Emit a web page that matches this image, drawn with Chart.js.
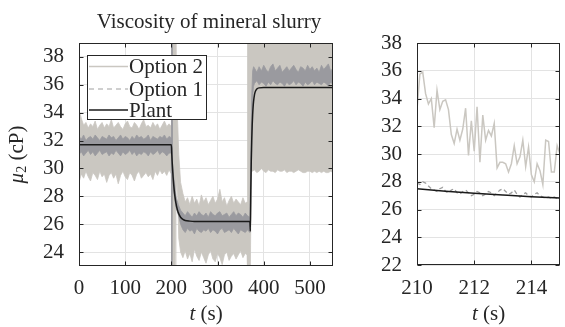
<!DOCTYPE html>
<html>
<head>
<meta charset="utf-8">
<script src="https://cdn.jsdelivr.net/npm/chart.js@4.4.1/dist/chart.umd.min.js"></script>
<style>
  html, body { margin: 0; padding: 0; background: #fff; }
  #wrap { position: relative; width: 565px; height: 327px; overflow: hidden; }
  canvas { position: absolute; top: 0; }
</style>
</head>
<body>
<div id="wrap">
  <canvas id="fullChart" width="350" height="327" style="left:0"></canvas>
  <canvas id="zoomChart" width="215" height="327" style="left:350px"></canvas>
</div>
<script>
// ---- data ----
// full run, x ticks / y ticks
const fullXTicks = [0, 100, 200, 300, 400, 500];
const fullYTicks = [24, 26, 28, 30, 32, 34, 36, 38];
const zoomXTicks = [210, 212, 214];
const zoomYTicks = [22, 24, 26, 28, 30, 32, 34, 36, 38];

// Option 2 estimate (light band): time, upper and lower envelope
const opt2Time = [
  0, 5, 10, 15, 20, 25, 30, 35, 40, 45, 50, 55, 60, 65, 70, 75, 80, 85, 90, 95,
  100, 105, 110, 115, 120, 125, 130, 135, 140, 145, 150, 155, 160, 165, 170, 175, 180, 185, 190, 195,
  200, 203, 209, 210, 212, 214, 216, 220,
  225, 230, 235, 240, 245, 250, 255, 260, 265, 270, 275, 280, 285, 290, 295, 300, 305, 310, 315, 320,
  325, 330, 335, 340, 345, 350, 355, 360,
  364, 365, 371, 373,
  375, 380, 385, 390, 395, 400, 405, 410, 415, 420, 425, 430, 435, 440, 445, 450, 455, 460,
  465, 470, 475, 480, 485, 490, 495, 500, 505, 510, 515, 520, 525, 530, 535, 540, 545, 550
];
const opt2Upper = [
  34.2, 33.6, 33.1, 33.3, 32.9, 33.2, 33.0, 33.4, 32.8, 33.1, 33.3, 32.9, 33.2, 33.0, 33.5, 32.9, 33.1, 33.3, 33.0, 32.8,
  33.2, 33.4, 33.0, 32.9, 33.3, 33.1, 32.8, 33.2, 33.5, 33.0, 33.1, 32.9, 33.3, 33.0, 33.2, 32.8, 33.1, 33.4, 33.0, 33.2,
  33.0, 39.5, 39.5, 36.0, 34.5, 33.0, 31.0, 29.0,
  28.2, 27.6, 27.9, 27.4, 28.0, 27.5, 27.8, 27.3, 28.1, 27.6, 27.9, 27.4, 27.7, 28.0, 27.5, 27.8, 28.5, 27.6, 27.9, 27.3,
  27.7, 28.0, 27.5, 27.8, 27.6, 27.4, 27.9, 27.5,
  27.6, 39.5, 39.5, 39.5,
  39.5, 39.5, 39.5, 39.5, 39.5, 39.5, 39.5, 39.5, 39.5, 39.5, 39.5, 39.5, 39.5, 39.5, 39.5, 39.5, 39.5, 39.5,
  39.5, 39.5, 39.5, 39.5, 39.5, 39.5, 39.5, 39.5, 39.5, 39.5, 39.5, 39.5, 39.5, 39.5, 39.5, 39.5, 39.5, 39.5
];
const opt2Lower = [
  29.0, 29.6, 29.3, 29.8, 29.4, 29.1, 29.7, 29.5, 29.2, 29.8, 29.4, 29.6, 29.0, 29.5, 29.7, 29.3, 29.6, 28.9, 29.5, 29.8,
  29.4, 29.2, 29.7, 29.5, 29.1, 29.6, 29.8, 29.3, 29.5, 29.7, 29.4, 29.6, 29.2, 29.8, 29.5, 29.9, 29.6, 29.8, 29.5, 29.9,
  29.6, 22.5, 22.5, 28.0, 29.5, 27.8, 25.0, 24.0,
  23.6, 24.1, 23.5, 23.9, 23.3, 24.2, 23.7, 23.4, 24.0, 23.6, 23.2, 23.8, 24.1, 23.5, 23.3, 23.9, 23.6, 23.1, 23.8, 24.0,
  23.4, 23.7, 23.9, 23.5, 23.8, 24.1, 23.6, 23.9,
  23.8, 22.5, 22.5, 29.9,
  29.8, 29.9, 29.7, 29.8, 30.0, 29.8, 29.7, 29.9, 29.8, 29.8, 29.7, 29.9, 29.8, 29.8, 29.9, 29.7, 29.8, 29.8,
  29.7, 29.8, 29.9, 29.8, 29.7, 29.7, 29.8, 29.8, 29.7, 29.8, 29.7, 29.8, 29.7, 29.8, 29.7, 29.7, 29.8, 29.7
];

// Option 1 estimate (dark band)
const opt1Time = [
  0, 5, 10, 15, 20, 25, 30, 35, 40, 45, 50, 55, 60, 65, 70, 75, 80, 85, 90, 95,
  100, 105, 110, 115, 120, 125, 130, 135, 140, 145, 150, 155, 160, 165, 170, 175, 180, 185, 190, 195,
  200, 200.5, 201.5, 202, 205, 210, 215, 220,
  225, 230, 235, 240, 245, 250, 255, 260, 265, 270, 275, 280, 285, 290, 295, 300, 305, 310, 315, 320,
  325, 330, 335, 340, 345, 350, 355, 360, 365,
  370, 372, 374, 376, 378,
  380, 385, 390, 395, 400, 405, 410, 415, 420, 425, 430, 435, 440, 445, 450, 455, 460, 465,
  470, 475, 480, 485, 490, 495, 500, 505, 510, 515, 520, 525, 530, 535, 540, 545, 550
];
const opt1Upper = [
  32.3, 32.1, 32.4, 32.0, 32.2, 32.3, 32.1, 32.4, 32.2, 32.0, 32.3, 32.2, 32.1, 32.4, 32.2, 32.3, 32.0, 32.2, 32.4, 32.1,
  32.3, 32.2, 32.0, 32.3, 32.1, 32.4, 32.2, 32.3, 32.1, 32.2, 32.4, 32.0, 32.3, 32.2, 32.1, 32.3, 32.2, 32.4, 32.1, 32.3,
  32.2, 39.5, 39.5, 30.6, 29.4, 28.0, 27.4, 27.0,
  26.8, 26.6, 26.9, 26.7, 26.5, 26.8, 26.6, 26.9, 26.7, 26.6, 26.8, 26.5, 26.9, 26.7, 26.6, 26.8, 26.9, 26.6, 26.7, 26.8,
  26.5, 26.7, 26.9, 26.6, 26.8, 26.7, 26.5, 26.8, 26.6,
  26.5, 30.5, 35.2, 37.0, 37.3,
  37.2, 36.9, 37.3, 37.0, 37.4, 37.1, 36.9, 37.3, 37.5, 37.0, 37.2, 37.4, 36.9, 37.1, 37.3, 37.0, 37.2, 37.4,
  37.1, 36.9, 37.3, 37.2, 37.0, 37.4, 37.1, 37.3, 37.0, 37.2, 36.9, 37.4, 37.1, 37.3, 37.5, 37.0, 37.2
];
const opt1Lower = [
  31.0, 31.2, 30.9, 31.1, 31.3, 31.0, 31.2, 30.9, 31.1, 31.3, 31.0, 31.1, 31.2, 30.9, 31.1, 31.0, 31.3, 31.1, 30.9, 31.2,
  31.0, 31.1, 31.3, 31.0, 31.2, 30.9, 31.1, 31.0, 31.2, 31.1, 30.9, 31.2, 31.0, 31.1, 31.3, 31.0, 31.2, 31.1, 30.9, 31.1,
  31.1, 22.5, 22.5, 29.6, 28.3, 27.2, 26.7, 26.0,
  25.6, 25.4, 25.7, 25.5, 25.6, 25.3, 25.7, 25.5, 25.4, 25.6, 25.5, 25.7, 25.4, 25.6, 25.5, 25.3, 25.6, 25.7, 25.4, 25.5,
  25.6, 25.4, 25.7, 25.5, 25.3, 25.6, 25.5, 25.4, 25.6,
  25.4, 27.5, 31.5, 35.2, 35.9,
  36.1, 36.3, 36.0, 36.2, 36.1, 35.9, 36.2, 36.0, 36.3, 36.1, 36.0, 36.2, 36.1, 35.9, 36.2, 36.0, 36.1, 36.3,
  36.0, 36.2, 36.1, 35.9, 36.2, 36.0, 36.1, 36.3, 36.0, 36.2, 36.1, 36.0, 36.2, 36.1, 35.9, 36.2, 36.0
];

// Plant viscosity
const plantTime = [
  0, 200, 201, 202, 203, 204, 205, 206, 207, 208, 209, 210, 211, 212, 213, 214, 215,
  218, 220, 225, 230, 240, 250,
  370, 371, 372, 373, 374, 375, 376, 377, 378,
  380, 382, 385, 390, 400, 550
];
const plantValue = [
  31.7, 31.7, 30.96, 30.31, 29.76, 29.28, 28.86, 28.5, 28.19, 27.92, 27.69, 27.49, 27.32, 27.17, 27.04, 26.92, 26.83,
  26.61, 26.5, 26.35, 26.27, 26.22, 26.2,
  26.2, 25.5, 28.42, 30.52, 32.01, 33.08, 33.85, 34.41, 34.8,
  35.3, 35.54, 35.7, 35.78, 35.8, 35.8
];

// close-up 210-215 s
const zoomTime = [
  210.0, 210.1, 210.2, 210.3, 210.4, 210.5, 210.6, 210.7, 210.8, 210.9,
  211.0, 211.1, 211.2, 211.3, 211.4, 211.5, 211.6, 211.7, 211.8, 211.9,
  212.0, 212.1, 212.2, 212.3, 212.4, 212.5, 212.6, 212.7, 212.8, 212.9,
  213.0, 213.1, 213.2, 213.3, 213.4, 213.5, 213.6, 213.7, 213.8, 213.9,
  214.0, 214.1, 214.2, 214.3, 214.4, 214.5, 214.6, 214.7, 214.8, 214.9, 215.0
];
const zoomOpt2 = [
  33.2, 35.75, 35.9, 34.35, 33.6, 34.0, 31.9, 34.6, 33.2, 33.8,
  33.9, 33.2, 31.4, 30.75, 31.8, 31.0, 31.8, 33.3, 29.9, 32.4,
  30.2, 33.4, 29.4, 32.8, 31.0, 31.7, 31.3, 32.2, 29.0, 29.4,
  29.4, 29.3, 28.7, 29.3, 30.6, 29.3, 29.8, 31.0, 29.1, 30.5,
  28.5, 28.0, 29.3, 28.8, 27.8, 31.0, 30.9, 28.7, 28.7, 30.6, 30.0
];
const zoomOpt1 = [
  27.9, 27.8, 28.0, 27.9, 27.7, 27.5, 27.4, 27.3, 27.5, 27.6,
  27.3, 27.2, 27.4, 27.5, 27.2, 27.1, 27.3, 27.4, 27.2, 27.0,
  27.1, 27.3, 27.2, 27.0, 27.1, 27.3, 27.2, 27.0, 27.2, 27.4,
  27.5, 27.3, 27.1, 27.2, 27.4, 27.1, 26.9, 27.1, 27.2, 27.0,
  26.9, 27.1, 27.2, 27.0, 26.9, 26.8, 26.9, 26.8, 26.9, 26.8, 26.8
];

// ---- styling ----
const serif = '"Liberation Serif", "Times New Roman", serif';
const ink = '#262626';
const lightGray = '#cac7c1';
const darkGray = '#9a9a9f';
const dashGray = '#a0a0a0';
const plantColor = '#1a1a1a';

Chart.defaults.font.family = serif;
Chart.defaults.font.size = 21;
Chart.defaults.color = ink;

const pts = (xs, ys) => xs.map((x, i) => ({ x: x, y: ys[i] }));

function drawRich(ctx, parts, x, y) {
  let total = 0;
  parts.forEach(p => {
    ctx.font = (p.italic ? 'italic ' : '') + p.size + 'px ' + serif;
    p.w = ctx.measureText(p.text).width;
    total += p.w;
  });
  let cx = x - total / 2;
  parts.forEach(p => {
    ctx.font = (p.italic ? 'italic ' : '') + p.size + 'px ' + serif;
    ctx.fillText(p.text, cx, y + (p.dy || 0));
    cx += p.w;
  });
}

// box round the axes, inward ticks on all sides, titles
const axesBox = {
  id: 'axesBox',
  afterDraw(chart, args, opts) {
    const { ctx, chartArea: a, scales: { x, y } } = chart;
    ctx.save();
    ctx.strokeStyle = ink;
    ctx.lineWidth = 1;
    const L = Math.round(a.left) + 0.5, R = Math.round(a.right) - 0.5;
    const T = Math.round(a.top) + 0.5, B = Math.round(a.bottom) - 0.5;
    ctx.strokeRect(L, T, R - L, B - T);
    ctx.beginPath();
    x.ticks.forEach(t => {
      const px = Math.round(x.getPixelForValue(t.value)) + 0.5;
      ctx.moveTo(px, B); ctx.lineTo(px, B - 4);
      ctx.moveTo(px, T); ctx.lineTo(px, T + 4);
    });
    y.ticks.forEach(t => {
      const py = Math.round(y.getPixelForValue(t.value)) + 0.5;
      ctx.moveTo(L, py); ctx.lineTo(L + 4, py);
      ctx.moveTo(R, py); ctx.lineTo(R - 4, py);
    });
    ctx.stroke();

    ctx.fillStyle = ink;
    ctx.textBaseline = 'alphabetic';
    if (opts.title) {
      drawRich(ctx, [{ text: opts.title, size: 21 }], opts.titleX, 28);
    }
    drawRich(ctx, [{ text: 't', italic: true, size: 21 }, { text: ' (s)', size: 21 }], (a.left + a.right) / 2, 320);
    if (opts.yTitle) {
      ctx.translate(17, (a.top + a.bottom) / 2);
      ctx.rotate(-Math.PI / 2);
      ctx.textBaseline = 'middle';
      drawRich(ctx, [
        { text: '\u03bc', italic: true, size: 21 },
        { text: '2', size: 14, dy: 5 },
        { text: ' (cP)', size: 21 }
      ], 0, 0);
    }
    ctx.restore();
  }
};

// framed legend in the upper left corner of the full-run axes
const legendBox = {
  id: 'legendBox',
  afterDatasetsDraw(chart) {
    const ctx = chart.ctx;
    const items = [
      { label: 'Option 2', color: lightGray, dash: [], width: 1.5, y: 66.5 },
      { label: 'Option 1', color: dashGray, dash: [5, 4], width: 1.2, y: 89 },
      { label: 'Plant', color: plantColor, dash: [], width: 1.5, y: 110 }
    ];
    ctx.save();
    ctx.fillStyle = '#fff';
    ctx.fillRect(87, 55, 120, 65);
    ctx.strokeStyle = ink;
    ctx.lineWidth = 1;
    ctx.strokeRect(87.5, 55.5, 119, 64);
    ctx.font = '21px ' + serif;
    ctx.textBaseline = 'middle';
    items.forEach(it => {
      ctx.beginPath();
      ctx.setLineDash(it.dash);
      ctx.strokeStyle = it.color;
      ctx.lineWidth = it.width;
      ctx.moveTo(89, it.y);
      ctx.lineTo(128, it.y);
      ctx.stroke();
      ctx.setLineDash([]);
      ctx.fillStyle = ink;
      ctx.fillText(it.label, 129, it.y + 1);
    });
    ctx.restore();
  }
};

function scaleOptions(min, max, tickValues, isX, fitSize, pad) {
  return {
    type: 'linear',
    min: min,
    max: max,
    afterBuildTicks: s => { s.ticks = tickValues.map(v => ({ value: v })); },
    afterFit: s => { if (isX) { s.height = fitSize; } else { s.width = fitSize; } },
    ticks: { padding: pad, autoSkip: false, maxRotation: 0, color: ink, font: { family: serif, size: 21 } },
    grid: { color: '#e3e3e3', lineWidth: 1, drawTicks: false },
    border: { display: false }
  };
}

const bandStyle = (color) => ({
  borderColor: color, backgroundColor: color, borderWidth: 0.8,
  pointRadius: 0, tension: 0
});

new Chart(document.getElementById('fullChart'), {
  type: 'line',
  data: {
    datasets: [
      Object.assign({ label: 'Option 2', data: pts(opt2Time, opt2Upper), fill: 1, order: 3 }, bandStyle(lightGray)),
      Object.assign({ label: 'Option 2 low', data: pts(opt2Time, opt2Lower), fill: false, order: 3 }, bandStyle(lightGray)),
      Object.assign({ label: 'Option 1', data: pts(opt1Time, opt1Upper), fill: 3, order: 2 }, bandStyle(darkGray)),
      Object.assign({ label: 'Option 1 low', data: pts(opt1Time, opt1Lower), fill: false, order: 2 }, bandStyle(darkGray)),
      {
        label: 'Plant', data: pts(plantTime, plantValue), borderColor: plantColor,
        borderWidth: 1.5, pointRadius: 0, fill: false, cubicInterpolationMode: 'monotone', order: 1
      }
    ]
  },
  options: {
    responsive: false,
    animation: false,
    devicePixelRatio: 1,
    layout: { padding: { top: 43, right: 17, left: 0, bottom: 0 } },
    scales: {
      x: scaleOptions(0, 550, fullXTicks, true, 61, 10),
      y: scaleOptions(23, 39, fullYTicks, false, 79, 15)
    },
    plugins: {
      legend: { display: false },
      tooltip: { enabled: false },
      axesBox: { title: 'Viscosity of mineral slurry', titleX: 209, yTitle: true }
    }
  },
  plugins: [legendBox, axesBox]
});

new Chart(document.getElementById('zoomChart'), {
  type: 'line',
  data: {
    datasets: [
      {
        label: 'Plant', data: pts(plantTime, plantValue), borderColor: plantColor,
        borderWidth: 1.5, pointRadius: 0, fill: false, cubicInterpolationMode: 'monotone'
      },
      {
        label: 'Option 1', data: pts(zoomTime, zoomOpt1), borderColor: dashGray,
        borderWidth: 1.3, borderDash: [4, 3], pointRadius: 0, fill: false, tension: 0
      },
      {
        label: 'Option 2', data: pts(zoomTime, zoomOpt2), borderColor: lightGray,
        borderWidth: 1.5, pointRadius: 0, fill: false, tension: 0
      }
    ]
  },
  options: {
    responsive: false,
    animation: false,
    devicePixelRatio: 1,
    layout: { padding: { top: 43, right: 5, left: 0, bottom: 0 } },
    scales: {
      x: scaleOptions(210, 215, zoomXTicks, true, 62, 11),
      y: scaleOptions(22, 38, zoomYTicks, false, 67, 15)
    },
    plugins: {
      legend: { display: false },
      tooltip: { enabled: false },
      axesBox: { yTitle: false }
    }
  },
  plugins: [axesBox]
});
</script>
</body>
</html>
